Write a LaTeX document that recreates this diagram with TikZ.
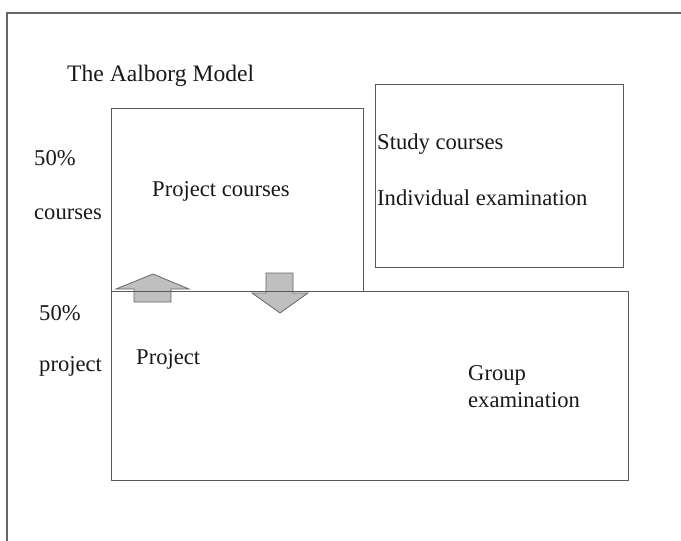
\documentclass[tikz,border=0pt]{standalone}
\usepackage{fontspec}
\setmainfont{Liberation Serif}
\begin{document}
\begin{tikzpicture}[x=1pt,y=-1pt,
  frame/.style={draw=black!60,line width=1.8pt},
  box/.style={draw=black!65,line width=1.2pt,rectangle,inner sep=0pt},
  lbl/.style={inner sep=0pt,anchor=base west,font=\fontsize{22.6}{26}\selectfont,text=black!90},
  blockarrow/.style={fill=black!25,draw=black!60,line width=0.8pt,line join=miter}]
\useasboundingbox (0,0) rectangle (681,541);
\fill[white] (0,0) rectangle (681,541);
% outer frame (top and left only)
\coordinate (fb) at (7,541);
\coordinate (ftl) at (7,13);
\coordinate (ftr) at (681,13);
\draw[frame] (fb) -- (ftl) -- (ftr);
% block arrows
\draw[blockarrow] (153,274) -- (189,289) -- (171,289) -- (171,302) -- (134,302) -- (134,289) -- (116,289) -- cycle;
\draw[blockarrow] (266,273) -- (293,273) -- (293,293) -- (308,293) -- (280,313) -- (252,293) -- (266,293) -- cycle;
% boxes
\node[box,anchor=north west,minimum width=252pt,minimum height=183pt] (pc) at (111,108) {};
\node[box,anchor=north west,minimum width=248pt,minimum height=183pt] (sc) at (375,84) {};
\node[box,anchor=north west,minimum width=517pt,minimum height=189pt] (pr) at (111,291) {};
% texts
\node[lbl,font=\fontsize{23.6}{28}\selectfont] (title) at (67,81) {The Aalborg Model};
\node[lbl] (p1) at (34,165) {50\%};
\node[lbl] (c1) at (34,219) {courses};
\node[lbl] (p2) at (39,320) {50\%};
\node[lbl] (c2) at (39,371) {project};
\node[lbl] (pct) at (152,196) {Project courses};
\node[lbl] (sct) at (377,149) {Study courses};
\node[lbl] (iet) at (377,205) {Individual examination};
\node[lbl] (prt) at (136,364) {Project};
\node[lbl] (gr) at (468,380) {Group};
\node[lbl] (ex) at (468,407) {examination};
\end{tikzpicture}
\end{document}
